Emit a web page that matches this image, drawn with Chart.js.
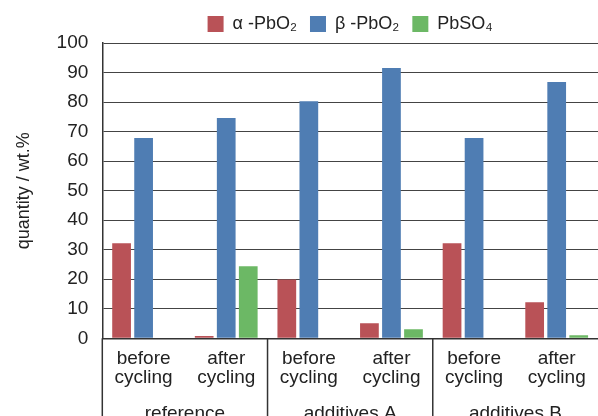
<!DOCTYPE html>
<html>
<head>
<meta charset="utf-8">
<script src="https://cdn.jsdelivr.net/npm/chart.js@4"></script>
<style>
html,body{margin:0;padding:0;background:#fff;overflow:hidden;}
#wrap{width:598px;height:429px;position:relative;}
</style>
</head>
<body>
<div id="wrap"><canvas id="c"></canvas></div>
<script>
const categories = [["before","cycling"],["after","cycling"],["before","cycling"],["after","cycling"],["before","cycling"],["after","cycling"]];
const groups = ["reference","additives A","additives B"];
const alphaPbO2 = [32.2, 0.8, 19.9, 5.1, 32.2, 12.2];
const betaPbO2 = [67.8, 74.6, 80.3, 91.5, 67.8, 86.8];
const pbSO4 = [0, 24.4, 0, 3.1, 0, 1.0];
const seriesNames = ["α -PbO₂", "β -PbO₂", "PbSO₄"];
const yTicks = [0,10,20,30,40,50,60,70,80,90,100];

const FONT = "'Liberation Sans', Arial, sans-serif";
const separators = {
  id: 'separators',
  afterDraw(chart) {
    const x = chart.scales.x, ctx = chart.ctx, ca = chart.chartArea;
    const xs = [ca.left, (x.getPixelForValue(1)+x.getPixelForValue(2))/2, (x.getPixelForValue(3)+x.getPixelForValue(4))/2];
    ctx.save();
    ctx.strokeStyle = '#333';
    ctx.lineWidth = 1.5;
    xs.forEach(px => {
      ctx.beginPath();
      ctx.moveTo(px, ca.bottom);
      ctx.lineTo(px, chart.height);
      ctx.stroke();
    });
    ctx.restore();
  }
};

new Chart(document.getElementById('c'), {
  type: 'bar',
  data: {
    labels: categories,
    datasets: [
      {label: seriesNames[0], data: alphaPbO2, backgroundColor: '#B95257'},
      {label: seriesNames[1], data: betaPbO2, backgroundColor: '#4F7DB3'},
      {label: seriesNames[2], data: pbSO4, backgroundColor: '#6CB865'}
    ]
  },
  options: {
    responsive: true,
    maintainAspectRatio: false,
    animation: false,
    layout: {padding: {left: 13, right: 0, top: 2, bottom: 0}},
    datasets: {bar: {categoryPercentage: 0.8, barPercentage: 0.85}},
    plugins: {
      legend: {
        position: 'top',
        fullSize: false,
        labels: {boxWidth: 16, boxHeight: 16, font: {family: FONT, size: 18}, color: '#222', padding: 13}
      },
      tooltip: {enabled: false}
    },
    scales: {
      x: {
        grid: {display: false, drawTicks: false},
        border: {display: true, color: '#333', width: 1.5},
        ticks: {font: {family: FONT, size: 19, lineHeight: 1.05}, color: '#222', padding: 10, maxRotation: 0, autoSkip: false}
      },
      x2: {
        type: 'category',
        labels: groups,
        position: 'bottom',
        offset: true,
        grid: {display: false, drawTicks: false},
        border: {display: false},
        ticks: {font: {family: FONT, size: 19}, color: '#222', padding: 4, maxRotation: 0}
      },
      y: {
        min: 0, max: 100,
        afterBuildTicks(axis) { axis.ticks = yTicks.map(v => ({value: v})); },
        grid: {color: '#444', lineWidth: 1, drawTicks: false},
        border: {display: true, color: '#333', width: 1.5},
        ticks: {font: {family: FONT, size: 19}, color: '#222', padding: 14},
        title: {display: true, text: 'quantity / wt.%', font: {family: FONT, size: 18}, color: '#222', padding: {top: 0, bottom: 8}}
      }
    }
  },
  plugins: [separators]
});
</script>
</body>
</html>
